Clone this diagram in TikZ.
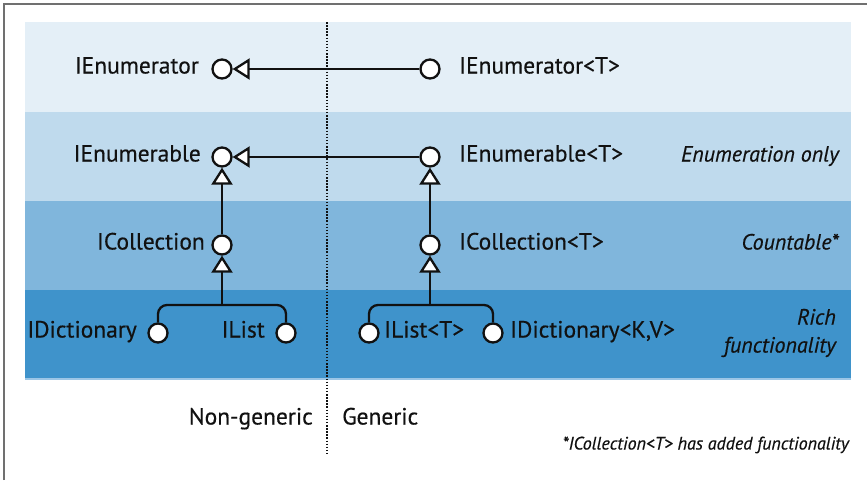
\documentclass[tikz,border=0pt]{standalone}
\usepackage{fontspec}
\setmainfont{PT Sans}
\newfontfamily\lblfont{PT Sans}[FakeBold=0.4]
\newfontfamily\itfont{PT Sans Italic}[FakeBold=0.4]
\usetikzlibrary{arrows.meta}
\definecolor{bandA}{HTML}{E4EFF7}
\definecolor{bandB}{HTML}{BFDAED}
\definecolor{bandC}{HTML}{80B6DC}
\definecolor{bandD}{HTML}{3F93CB}
\definecolor{bandEdge}{HTML}{9CC6E6}
\definecolor{frameGray}{HTML}{707070}
\definecolor{ink}{HTML}{111111}
\begin{document}
\begin{tikzpicture}[x=1pt,y=-1pt,
  dot/.style={circle,draw=ink,fill=white,line width=2.3pt,minimum size=19pt,inner sep=0pt},
  lbl/.style={font=\lblfont\fontsize{23.5}{27}\selectfont,inner sep=0pt,text=ink},
  side/.style={font=\itfont\fontsize{22}{28}\selectfont,inner sep=0pt,align=right,text=ink},
  foot/.style={font=\itfont\fontsize{18}{22}\selectfont,inner sep=0pt,text=ink},
  conn/.style={line width=2.3pt,draw=ink},
  inh/.style={conn,-{Triangle[fill=white,length=17pt,width=21pt]}}
]
\useasboundingbox (0,0) rectangle (867,480);
\fill[white] (0,0) rectangle (867,480);
% frame
\draw[frameGray,line width=1.5pt] (4,480) -- (4,4) -- (867,4);
% bands
\fill[bandA] (25,22) rectangle (851,112);
\fill[bandB] (25,112) rectangle (851,201);
\fill[bandC] (25,201) rectangle (851,290);
\fill[bandD] (25,290) rectangle (851,379);
\fill[bandEdge] (25,378) rectangle (851,380);
% dotted separator
\draw[ink,line width=1.5pt,dash pattern=on 1.5pt off 1.6pt] (327,22) -- (327,453);
% circles
\node[dot] (ienum) at (222,69) {};
\node[dot] (ienumT) at (430,69) {};
\node[dot] (iable) at (222,157) {};
\node[dot] (iableT) at (430,157) {};
\node[dot] (icoll) at (222,245) {};
\node[dot] (icollT) at (430,245) {};
\node[dot] (idict) at (158,333) {};
\node[dot] (ilist) at (286,333) {};
\node[dot] (ilistT) at (369,333) {};
\node[dot] (idictT) at (493,333) {};
% labels
\node[lbl,anchor=mid east] (tienum) at (199,71) {IEnumerator};
\node[lbl,anchor=mid west] (tienumT) at (459,71) {IEnumerator<T>};
\node[lbl,anchor=mid east] (tiable) at (201,159) {IEnumerable};
\node[lbl,anchor=mid west] (tiableT) at (459,159) {IEnumerable<T>};
\node[lbl,anchor=mid east] (ticoll) at (205,247) {ICollection};
\node[lbl,anchor=mid west] (ticollT) at (459,247) {ICollection<T>};
\node[lbl,anchor=mid east] (tidict) at (137,335) {IDictionary};
\node[lbl,anchor=mid east] (tilist) at (265,335) {IList};
\node[lbl,anchor=mid west] (tilistT) at (384,335) {IList<T>};
\node[lbl,anchor=mid west] (tidictT) at (510,335) {IDictionary<K,V>};
% side labels
\node[side,anchor=mid east] (s1) at (839,159) {Enumeration only};
\node[side,anchor=mid east] (s2) at (839,247) {Countable*};
\node[side,anchor=east] (s3) at (836,333) {Rich\\functionality};
% bottom
\node[lbl,anchor=mid east] (ng) at (313,422) {Non-generic};
\node[lbl,anchor=mid west] (gn) at (342,422) {Generic};
\node[foot,anchor=mid east] (fn) at (849,447) {*ICollection<T> has added functionality};
% connectors
\coordinate (jn) at (222,305);
\coordinate (jnT) at (430,305);
\draw[inh] (ienumT) -- (ienum);
\draw[inh] (iableT) -- (iable);
\draw[inh] (icoll) -- (iable);
\draw[inh] (icollT) -- (iableT);
\draw[inh] (jn) -- (icoll);
\draw[inh] (jnT) -- (icollT);
\draw[conn,rounded corners=9pt] (idict) |- (jn) -| (ilist);
\draw[conn,rounded corners=9pt] (ilistT) |- (jnT) -| (idictT);
\end{tikzpicture}
\end{document}
